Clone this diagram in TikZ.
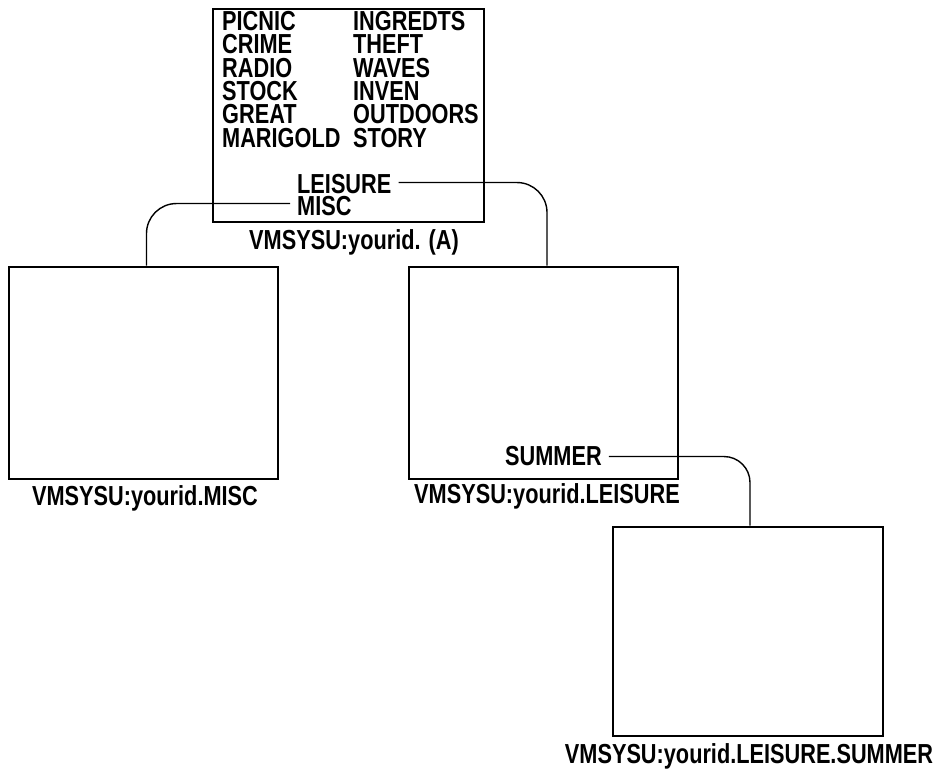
\documentclass[tikz,border=0pt]{standalone}
\usepackage{fontspec}
\newfontfamily\nar[FakeStretch=0.79]{Liberation Sans}
\begin{document}
\begin{tikzpicture}[x=1pt,y=-1pt,
  panel/.style={draw=black,line width=2.6pt,fill=none},
  txt/.style={inner sep=0pt,font=\nar\bfseries\fontsize{27.5}{27.5}\selectfont,text=black},
  link/.style={draw=black,line width=1.4pt,rounded corners=30pt}]
\useasboundingbox (0,0) rectangle (934,773);
% boxes
\draw[panel] (213,9) rectangle (484,222);
\node[inner sep=0pt,minimum width=269pt,minimum height=212pt,draw,line width=2.6pt] (boxM) at (143.5,373) {};
\node[inner sep=0pt,minimum width=269pt,minimum height=212pt,draw,line width=2.6pt] (boxL) at (543.5,373) {};
\node[inner sep=0pt,minimum width=270pt,minimum height=209pt,draw,line width=2.6pt] (boxS) at (748,631.5) {};
% list in top box
\foreach \a/\b/\y [count=\i] in {PICNIC/INGREDTS/30.5,CRIME/THEFT/53.8,RADIO/WAVES/77.1,STOCK/INVEN/100.4,GREAT/OUTDOORS/123.7,MARIGOLD/STORY/147}{
  \node[txt,anchor=base west] (la\i) at (222,\y) {\a};
  \node[txt,anchor=base west] (lb\i) at (353,\y) {\b};
}
\node[txt,anchor=base west] (leis) at (297,193) {LEISURE};
\node[txt,anchor=base west] (misc) at (297,215) {MISC};
\node[txt,anchor=base west] (summ) at (505,465) {SUMMER};
% labels
\node[txt,anchor=base] (labA) at (354,249) {VMSYSU:yourid. (A)};
\node[txt,anchor=base] (labM) at (145,505) {VMSYSU:yourid.MISC};
\node[txt,anchor=base] (labL) at (547,503) {VMSYSU:yourid.LEISURE};
\node[txt,anchor=base] (labS) at (749,763) {VMSYSU:yourid.LEISURE.SUMMER};
% connectors
\draw[link] ([xshift=7pt,yshift=1pt]leis.east) -| ([xshift=3.5pt]boxL.north);
\draw[link] ([xshift=-7pt,yshift=2pt]misc.west) -| ([xshift=3pt]boxM.north);
\draw[link,rounded corners=26pt] ([xshift=7pt,yshift=-1pt]summ.east) -| ([xshift=2pt]boxS.north);
\end{tikzpicture}
\end{document}
